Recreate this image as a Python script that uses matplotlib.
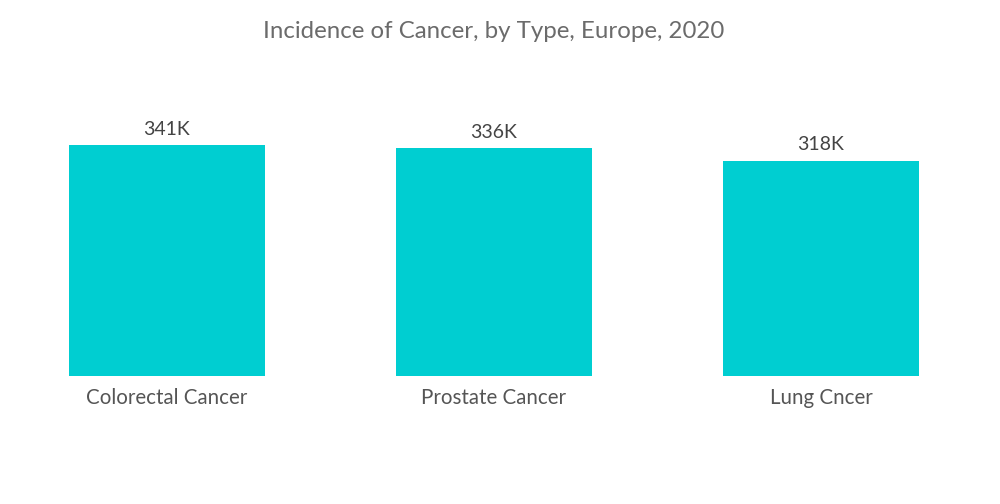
import matplotlib
matplotlib.use("Agg")
import matplotlib.pyplot as plt

categories = ["Colorectal Cancer", "Prostate Cancer", "Lung Cncer"]
values = [341, 336, 318]
value_labels = ["341K", "336K", "318K"]
title = "Incidence of Cancer, by Type, Europe, 2020"

plt.rcParams['font.family'] = ['Lato', 'DejaVu Sans']

fig = plt.figure(figsize=(10, 5.04), dpi=100)
ax = fig.add_axes([0.0035, 128/504, 0.981, 271/504])
x = list(range(len(categories)))
bars = ax.bar(x, values, width=0.6, color="#00CED1")
ax.set_xlim(-0.5, 2.5)
ax.set_ylim(0, 400)
for xi, v, lab in zip(x, values, value_labels):
    ax.text(xi, v + 11, lab, ha="center", va="bottom", fontsize=14, color="#444444")
ax.set_xticks(x)
ax.set_xticklabels(categories, fontsize=14.8, color="#555555")
ax.tick_params(axis="x", length=0, pad=9)
ax.set_yticks([])
for s in ax.spines.values():
    s.set_visible(False)
fig.text(0.494, 1 - 32/504, title, ha="center", va="center", fontsize=17.3, color="#6b6b6b")
fig.savefig("out.png", dpi=100)
